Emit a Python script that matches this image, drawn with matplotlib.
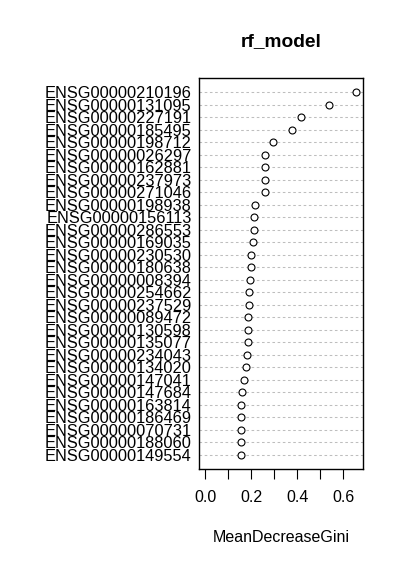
import numpy as np
import matplotlib.pyplot as plt

genes = ["ENSG00000210196", "ENSG00000131095", "ENSG00000227191", "ENSG00000185495",
         "ENSG00000198712", "ENSG00000026297", "ENSG00000162881", "ENSG00000237973",
         "ENSG00000271046", "ENSG00000198938", "ENSG00000156113", "ENSG00000286553",
         "ENSG00000169035", "ENSG00000230530", "ENSG00000180638", "ENSG00000008394",
         "ENSG00000254662", "ENSG00000237529", "ENSG00000089472", "ENSG00000130598",
         "ENSG00000135077", "ENSG00000234043", "ENSG00000134020", "ENSG00000147041",
         "ENSG00000147684", "ENSG00000163814", "ENSG00000186469", "ENSG00000070731",
         "ENSG00000188060", "ENSG00000149554"]
gini = [0.657, 0.539, 0.415, 0.376, 0.296, 0.261, 0.261, 0.258, 0.258, 0.217,
        0.213, 0.213, 0.209, 0.199, 0.200, 0.194, 0.191, 0.191, 0.187, 0.187,
        0.187, 0.183, 0.176, 0.170, 0.161, 0.157, 0.157, 0.157, 0.157, 0.157]
title = "rf_model"
xlabel = "MeanDecreaseGini"

plt.rcParams['font.family'] = ['Liberation Sans', 'DejaVu Sans']
fs = 11.5  # ~16 px at 100 dpi

W, H = 403, 567
fig = plt.figure(figsize=(W / 100, H / 100), dpi=100)
left, right, top, bottom = 199.3, 362.5, 78, 469
ax = fig.add_axes([left / W, 1 - bottom / H, (right - left) / W, (bottom - top) / H])

n = len(genes)
y = np.arange(n, 0, -1)  # first gene at top
xmax = max(gini)
ext = 0.04 * xmax
ax.set_xlim(-ext, xmax + ext)
ax.set_ylim(1 - 0.04 * (n - 1), n + 0.04 * (n - 1))

# dotted guide lines, like dotchart
ax.hlines(y, -ext, xmax + ext, colors='#bebebe', linestyles=(0, (2.5, 2.5)), linewidth=0.75, zorder=1)
ax.plot(gini, y, 'o', ms=5, mfc='white', mec='black', mew=0.8, zorder=3, clip_on=False)

ax.set_yticks(y)
ax.set_yticklabels(genes, fontsize=11.8)
ax.tick_params(axis='y', length=0, pad=5.5)

ax.set_xticks([0, 0.2, 0.4, 0.6])
ax.set_xticklabels(["0.0", "0.2", "0.4", "0.6"], fontsize=fs)
ax.set_xticks([0.1, 0.3, 0.5], minor=True)
ax.tick_params(axis='x', which='both', direction='out', length=7, width=0.8, pad=8)

for sp in ax.spines.values():
    sp.set_linewidth(1.0)

fig.text((left + right) / 2 / W, 1 - 46 / H, title, ha='center', va='baseline',
         fontsize=13.8, fontweight='bold')
fig.text((left + right) / 2 / W, 1 - 538 / H, xlabel, ha='center', va='center', fontsize=fs)

fig.savefig("out.png", dpi=100)
